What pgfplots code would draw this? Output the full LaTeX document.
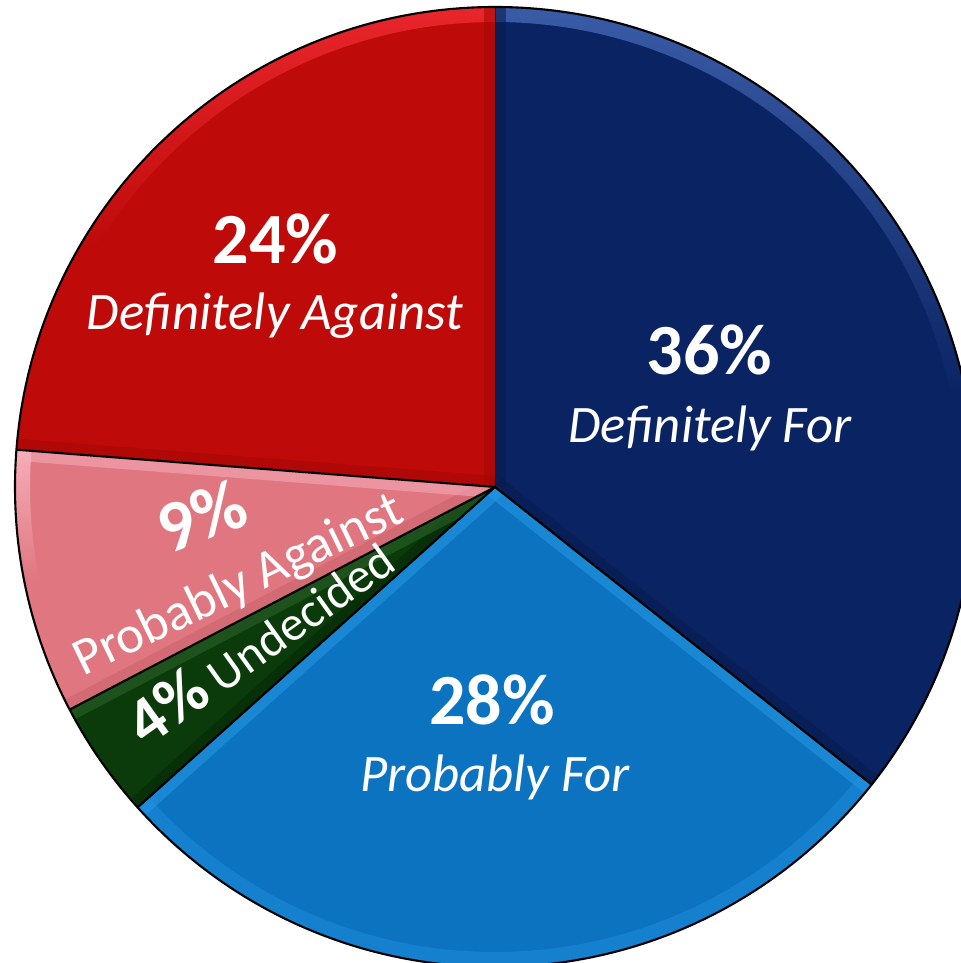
\documentclass[border=0pt]{standalone}
\usepackage{pgfplots}
\pgfplotsset{compat=1.18}
\usepackage{pgfplotstable}
\usepackage{fontspec}
\setmainfont{Carlito}

\definecolor{dblue}{HTML}{0A2463}
\definecolor{dblueL}{HTML}{3A5BA6}
\definecolor{dblueD}{HTML}{061A4C}
\definecolor{lblue}{HTML}{0B73BF}
\definecolor{lblueL}{HTML}{2598E6}
\definecolor{lblueM}{HTML}{1480CE}
\definecolor{dgreen}{HTML}{0B3B0B}
\definecolor{dgreenL}{HTML}{2C652C}
\definecolor{dgreenD}{HTML}{062806}
\definecolor{pinkc}{HTML}{E07780}
\definecolor{pinkcL}{HTML}{F6ADB9}
\definecolor{pinkcD}{HTML}{C9626C}
\definecolor{redc}{HTML}{BF0A0A}
\definecolor{redcL}{HTML}{E8262C}
\definecolor{redcD}{HTML}{A50606}

% shares in percent, clockwise from 12 o'clock
\pgfplotstableread{
share fillc rimtop rimbot edgea edgeb
36 dblue dblueL dblue dblueD dblueD
28 lblue lblueL lblueM lblueL lblueL
4 dgreen dgreenL dgreen dgreenD dgreenL
9 pinkc pinkcL pinkc pinkcD pinkcL
24 redc redcL redc redcD redcD
}\piedata

\newcommand\pctfont{\fontsize{20.5}{24}\selectfont\bfseries}
\newcommand\labfont{\fontsize{15}{18}\selectfont\itshape}
\newcommand\upfont{\fontsize{15}{18}\selectfont}

\begin{document}
\begin{tikzpicture}
\begin{axis}[
    width=9.61cm, height=9.63cm, scale only axis,
    xmin=0, xmax=961, ymin=0, ymax=963,
    hide axis, clip=true,
  ]
  \pgfplotsextra{
    \pgfplotstablegetrowsof{\piedata}
    \pgfmathtruncatemacro\lastrow{\pgfplotsretval-1}
    \gdef\total{0}
    \foreach \i in {0,...,\lastrow}{
      \pgfplotstablegetelem{\i}{share}\of\piedata
      \pgfmathsetmacro\tmp{\total+\pgfplotsretval}
      \xdef\total{\tmp}
    }
    \gdef\angA{90}
    \foreach \i in {0,...,\lastrow}{
      \pgfplotstablegetelem{\i}{share}\of\piedata \let\val\pgfplotsretval
      \pgfplotstablegetelem{\i}{fillc}\of\piedata \let\fc\pgfplotsretval
      \pgfplotstablegetelem{\i}{rimtop}\of\piedata \let\rt\pgfplotsretval
      \pgfplotstablegetelem{\i}{rimbot}\of\piedata \let\rb\pgfplotsretval
      \pgfplotstablegetelem{\i}{edgea}\of\piedata \let\ea\pgfplotsretval
      \pgfplotstablegetelem{\i}{edgeb}\of\piedata \let\eb\pgfplotsretval
      \pgfmathsetmacro\angB{\angA-360*\val/\total}
      \begin{scope}
        \clip (axis cs:495,476) -- ++(\angA:4.8cm)
          arc[start angle=\angA, end angle=\angB, radius=4.8cm] -- cycle;
        \fill[fill=\fc] (axis cs:495,476) -- ++(\angA:4.8cm)
          arc[start angle=\angA, end angle=\angB, radius=4.8cm] -- cycle;
        \shade[top color=\rt, bottom color=\rb, middle color=\rb] (axis cs:495,476) ++(\angA:4.8cm)
          arc[start angle=\angA, end angle=\angB, radius=4.8cm]
          -- ++(\angB:-0.15cm)
          arc[start angle=\angB, end angle=\angA, radius=4.65cm] -- cycle;
        \draw[draw=\ea, line width=0.22cm, opacity=0.55] (axis cs:495,476) -- ++(\angA:4.8cm);
        \draw[draw=\eb, line width=0.22cm, opacity=0.55] (axis cs:495,476) -- ++(\angB:4.8cm);
      \end{scope}
      \draw[black, line width=0.6pt] (axis cs:495,476) -- ++(\angA:4.8cm);
      \xdef\angA{\angB}
    }
    \draw[black, line width=0.6pt] (axis cs:495,476) circle[radius=4.8cm];
  }

  \node[anchor=base, text=white, font=\pctfont] at (axis cs:275.5,699) {24\%};
  \node[anchor=base, text=white, font=\labfont] at (axis cs:275,633) {Definitely Against};
  \node[anchor=base, text=white, font=\pctfont] at (axis cs:709.5,588) {36\%};
  \node[anchor=base, text=white, font=\labfont] at (axis cs:710,520) {Definitely For};
  \node[anchor=base, text=white, font=\pctfont] at (axis cs:492,238) {28\%};
  \node[anchor=base, text=white, font=\labfont] at (axis cs:495,171) {Probably For};
  \node[anchor=base, text=white, font=\pctfont, rotate=20] at (axis cs:210,424) {9\%};
  \node[anchor=base west, inner sep=0pt, text=white, font=\upfont, rotate=25.8] at (axis cs:83,286) {Probably Against};
  \node[anchor=base west, inner sep=0pt, text=white, font=\fontsize{14}{17}\selectfont, rotate=35.6] at (axis cs:146,214) {{\fontsize{19}{22}\selectfont\bfseries 4\%} Undecided};
\end{axis}
\pgfresetboundingbox
\path (current axis.south west) rectangle (current axis.north east);
\end{tikzpicture}
\end{document}
